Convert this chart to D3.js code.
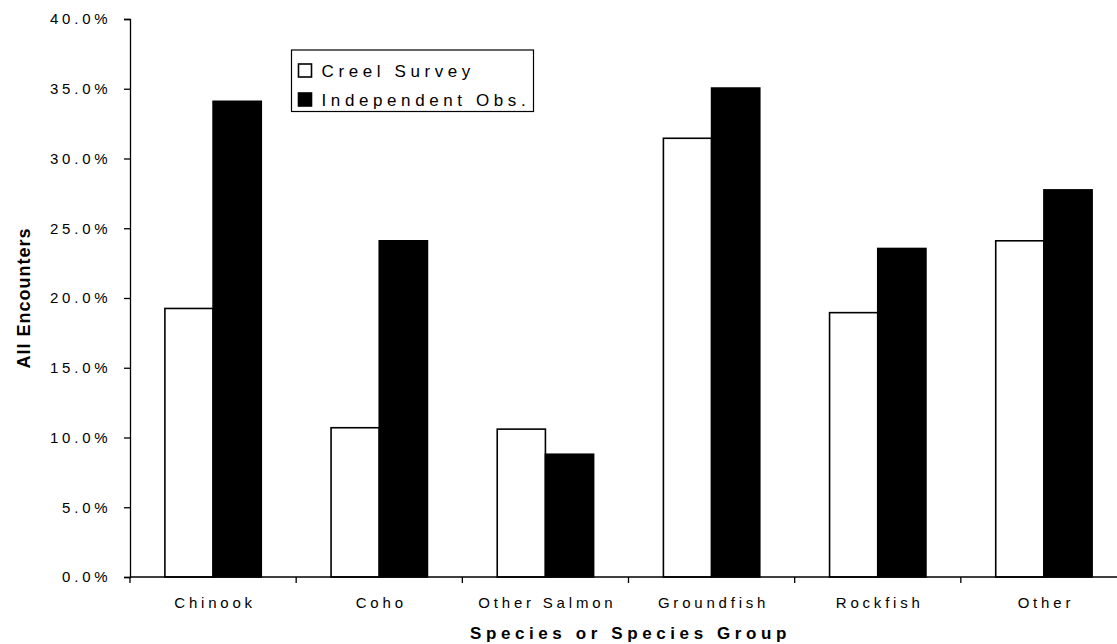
<!DOCTYPE html>
<html>
<head>
<meta charset="utf-8">
<script src="https://cdn.jsdelivr.net/npm/d3@7"></script>
<style>
  html, body { margin: 0; padding: 0; background: #fff; }
  svg { display: block; font-family: "Liberation Sans", Arial, sans-serif; }
</style>
</head>
<body>
<svg id="chart" width="1117" height="644"></svg>
<script>
// Share of all encounters by species group, per survey method
const categories = ["Chinook", "Coho", "Other Salmon", "Groundfish", "Rockfish", "Other"];
const seriesNames = ["Creel Survey", "Independent Obs."];
const creelSurvey = [19.25, 10.7, 10.6, 31.45, 18.95, 24.1];
const independentObs = [34.1, 24.1, 8.8, 35.05, 23.55, 27.75];
const yTicks = [0, 5, 10, 15, 20, 25, 30, 35, 40];
const yTitle = "All Encounters";
const xTitle = "Species or Species Group";

const svg = d3.select("#chart");
const margin = { left: 130, right: -10, top: 19, bottom: 67 };
const W = 1117, H = 644;

const x = d3.scaleBand()
  .domain(categories)
  .range([margin.left, W - margin.right])
  .paddingInner(0.42)
  .paddingOuter(0.21);

const xSub = d3.scaleBand()
  .domain(seriesNames)
  .range([0, x.bandwidth()]);

const y = d3.scaleLinear()
  .domain([0, 40])
  .range([H - margin.bottom, margin.top]);

const fills = { "Creel Survey": "#fff", "Independent Obs.": "#000" };
const values = { "Creel Survey": creelSurvey, "Independent Obs.": independentObs };

// Bars
const groups = svg.append("g").selectAll("g")
  .data(categories)
  .join("g")
  .attr("transform", d => `translate(${x(d)},0)`);

groups.selectAll("rect")
  .data((d, i) => seriesNames.map(s => ({ s, v: values[s][i] })))
  .join("rect")
  .attr("x", d => xSub(d.s))
  .attr("y", d => y(d.v))
  .attr("width", xSub.bandwidth())
  .attr("height", d => y(0) - y(d.v))
  .attr("fill", d => fills[d.s])
  .attr("stroke", "#000")
  .attr("stroke-width", 1.6);

// Y axis
const yAxis = svg.append("g")
  .attr("transform", `translate(${margin.left},0)`)
  .call(d3.axisLeft(y).tickValues(yTicks).tickSize(6).tickPadding(16)
    .tickFormat(d => d.toFixed(1) + "%"));
yAxis.select(".domain").attr("stroke", "#000").attr("stroke-width", 1.3);
yAxis.selectAll(".tick line").attr("stroke", "#000").attr("stroke-width", 1.3);
yAxis.selectAll(".tick text")
  .attr("fill", "#000")
  .style("font-size", "15px")
  .style("letter-spacing", "3.8px")
  .attr("dx", "3.5px");

// X axis with ticks at category boundaries
const boundaries = d3.range(categories.length + 1).map(i => margin.left + i * x.step());
const xAxis = svg.append("g");
xAxis.append("line")
  .attr("x1", margin.left).attr("x2", W)
  .attr("y1", y(0)).attr("y2", y(0))
  .attr("stroke", "#000").attr("stroke-width", 1.3);
xAxis.selectAll("line.tick")
  .data(boundaries)
  .join("line")
  .attr("class", "tick")
  .attr("x1", d => d).attr("x2", d => d)
  .attr("y1", y(0)).attr("y2", y(0) + 6)
  .attr("stroke", "#000").attr("stroke-width", 1.3);
xAxis.selectAll("text")
  .data(categories)
  .join("text")
  .attr("x", d => x(d) + x.bandwidth() / 2 + 2)
  .attr("y", y(0) + 31)
  .attr("text-anchor", "middle")
  .style("font-size", "15px")
  .style("letter-spacing", "3.8px")
  .text(d => d);

// Axis titles
svg.append("text")
  .attr("x", (margin.left + 1127) / 2 + 2)
  .attr("y", 639)
  .attr("text-anchor", "middle")
  .style("font-size", "17px")
  .style("font-weight", "bold")
  .style("letter-spacing", "4.6px")
  .text(xTitle);

svg.append("text")
  .attr("transform", "translate(30,298) rotate(-90)")
  .attr("text-anchor", "middle")
  .style("font-size", "18px")
  .style("font-weight", "bold")
  .style("letter-spacing", "1px")
  .text(yTitle);

// Legend
const legend = svg.append("g").attr("transform", "translate(291.5,50)");
legend.append("rect")
  .attr("width", 242).attr("height", 61.5)
  .attr("fill", "#fff").attr("stroke", "#000").attr("stroke-width", 1.2);
const items = legend.selectAll("g.item")
  .data(seriesNames)
  .join("g")
  .attr("class", "item")
  .attr("transform", (d, i) => `translate(7,${14 + i * 29})`);
items.append("rect")
  .attr("width", 13).attr("height", 13)
  .attr("fill", d => fills[d])
  .attr("stroke", "#000").attr("stroke-width", 1.6);
items.append("text")
  .attr("x", 23).attr("y", 13)
  .style("font-size", "17px")
  .style("letter-spacing", "4.6px")
  .text(d => d);
</script>
</body>
</html>
